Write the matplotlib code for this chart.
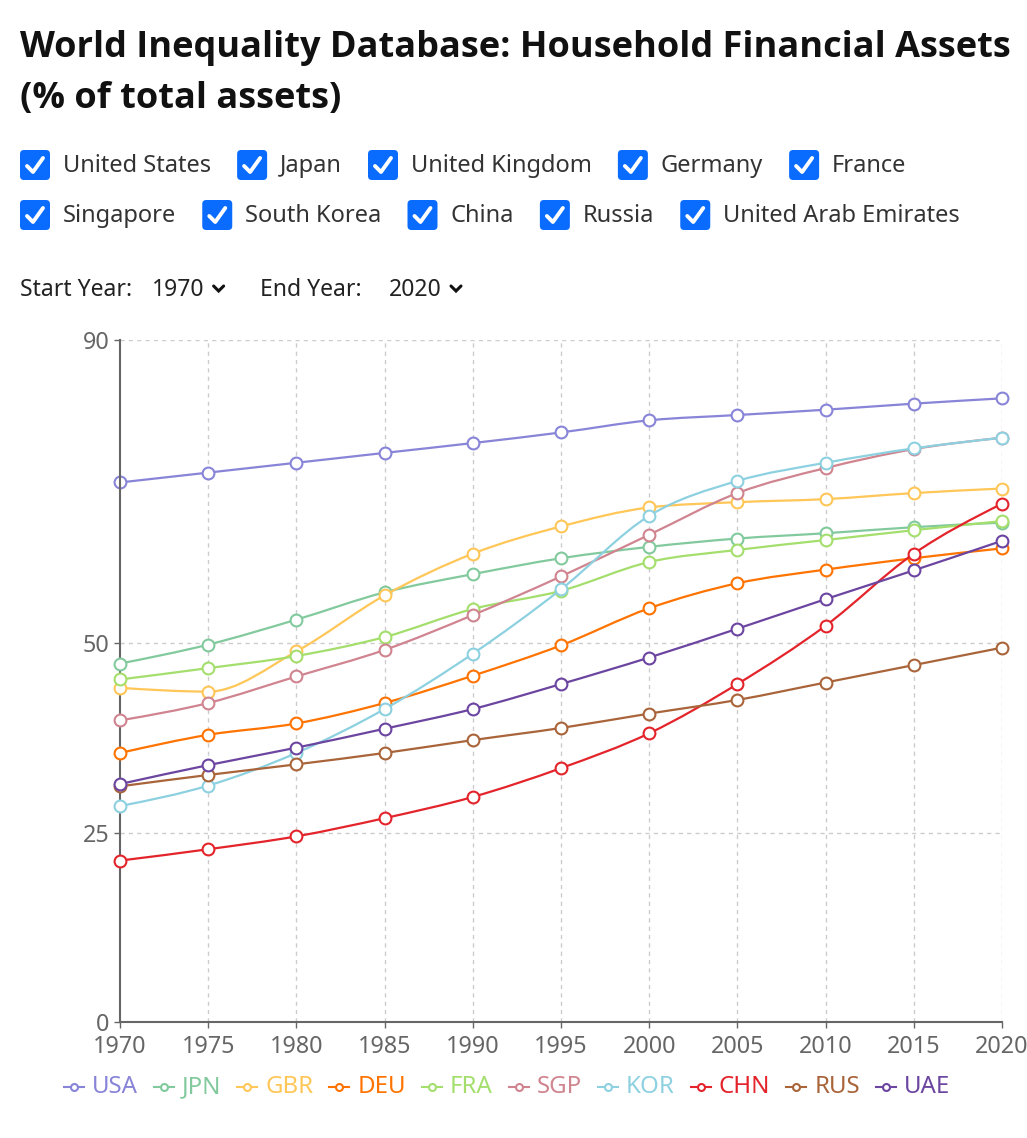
import numpy as np
import matplotlib
matplotlib.use('Agg')
import matplotlib.pyplot as plt
import matplotlib.transforms as mtransforms
from matplotlib.path import Path
from matplotlib.patches import PathPatch, FancyBboxPatch
from matplotlib.lines import Line2D

# data
years = [1970, 1975, 1980, 1985, 1990, 1995, 2000, 2005, 2010, 2015, 2020]
countries = ['United States', 'Japan', 'United Kingdom', 'Germany', 'France',
             'Singapore', 'South Korea', 'China', 'Russia', 'United Arab Emirates']
codes = ['USA', 'JPN', 'GBR', 'DEU', 'FRA', 'SGP', 'KOR', 'CHN', 'RUS', 'UAE']
colors = ['#8884d8', '#82ca9d', '#ffc658', '#ff7300', '#a4de6c',
          '#d0848f', '#8dd1e1', '#e3242b', '#a9643a', '#6b45a0']

usa = [71.2, 72.5, 73.8, 75.1, 76.4, 77.8, 79.4, 80.1, 80.8, 81.6, 82.3]
jpn = [47.3, 49.8, 53.1, 56.7, 59.1, 61.2, 62.7, 63.8, 64.5, 65.3, 65.9]
gbr = [44.1, 43.6, 48.9, 56.3, 61.8, 65.4, 67.9, 68.6, 69.0, 69.8, 70.4]
deu = [35.5, 37.9, 39.4, 42.1, 45.7, 49.7, 54.6, 57.9, 59.7, 61.2, 62.5]
fra = [45.2, 46.7, 48.3, 50.8, 54.5, 56.9, 60.7, 62.3, 63.6, 64.9, 66.1]
sgp = [39.8, 42.1, 45.6, 49.1, 53.7, 58.8, 64.3, 69.8, 73.1, 75.6, 77.1]
kor = [28.5, 31.2, 35.5, 41.3, 48.6, 57.1, 66.8, 71.4, 73.8, 75.7, 77.1]
chn = [21.3, 22.8, 24.5, 26.9, 29.7, 33.5, 38.1, 44.6, 52.3, 61.8, 68.4]
rus = [31.1, 32.6, 34.0, 35.5, 37.2, 38.8, 40.7, 42.5, 44.8, 47.1, 49.4]
uae = [31.4, 33.9, 36.2, 38.7, 41.3, 44.6, 48.1, 51.9, 55.8, 59.6, 63.5]
series = [usa, jpn, gbr, deu, fra, sgp, kor, chn, rus, uae]

y_ticks = [0, 25, 50, 90]

W, H = 1027, 1138
plt.rcParams['font.family'] = ['Noto Sans', 'DejaVu Sans']
fig = plt.figure(figsize=(W / 100, H / 100), dpi=100)
# pixel coordinates, origin top-left
px = mtransforms.Affine2D().scale(1 / W, -1 / H).translate(0, 1) + fig.transFigure
renderer = fig.canvas.get_renderer()


def width_of(t):
    return t.get_window_extent(renderer).width


def monotone_path(x, y):
    # same smoothing as d3 curveMonotoneX
    x = np.asarray(x, float)
    y = np.asarray(y, float)
    n = len(x)
    h = np.diff(x)
    s = np.diff(y) / h
    t = np.zeros(n)
    for i in range(1, n - 1):
        s0, s1 = s[i - 1], s[i]
        p = (s0 * h[i] + s1 * h[i - 1]) / (h[i - 1] + h[i])
        sg = (1 if s0 >= 0 else -1) + (1 if s1 >= 0 else -1)
        t[i] = sg * min(abs(s0), abs(s1), 0.5 * abs(p))
    t[0] = (3 * s[0] - t[1]) / 2
    t[-1] = (3 * s[-1] - t[-2]) / 2
    verts = [(x[0], y[0])]
    cds = [Path.MOVETO]
    for i in range(n - 1):
        dx = (x[i + 1] - x[i]) / 3
        verts += [(x[i] + dx, y[i] + dx * t[i]),
                  (x[i + 1] - dx, y[i + 1] - dx * t[i + 1]),
                  (x[i + 1], y[i + 1])]
        cds += [Path.CURVE4] * 3
    return Path(verts, cds)


# title
title_font = ['Open Sans', 'Lato', 'DejaVu Sans']
title1 = fig.text(20, 48, 'World Inequality Database: Household Financial Assets',
                  transform=px, fontsize=22, fontweight='bold', family=title_font,
                  color='#111111', va='center')
scale = 985 / width_of(title1)
title1.set_fontsize(22 * scale)
fig.text(20, 99, '(% of total assets)', transform=px, fontsize=22 * scale,
         fontweight='bold', family=title_font, color='#111111', va='center')

# checkbox rows
rows = [countries[:5], countries[5:]]
row_y = [165, 215]
for names, yc in zip(rows, row_y):
    x = 20
    for name in names:
        box = FancyBboxPatch((x, yc - 15), 30, 30, boxstyle='round,pad=0,rounding_size=4',
                             transform=px, facecolor='#0a6cff', edgecolor='none')
        fig.add_artist(box)
        fig.add_artist(Line2D([x + 7, x + 13, x + 23], [yc + 1, yc + 7, yc - 7], transform=px,
                              color='white', lw=2.8, solid_capstyle='round',
                              solid_joinstyle='round'))
        t = fig.text(x + 43, yc + 1, name, transform=px, fontsize=17, color='#333333',
                     va='center')
        x = x + 43 + width_of(t) + 26

# year selectors
def chevron(x, y):
    fig.add_artist(Line2D([x, x + 5, x + 10], [y - 3, y + 2, y - 3], transform=px,
                          color='#111111', lw=2.2, solid_capstyle='round',
                          solid_joinstyle='miter'))

ty = 290
fs = 16.5
t = fig.text(20, ty, 'Start Year:', transform=px, fontsize=fs, color='#222222', va='center')
x = 20 + width_of(t) + 20
t = fig.text(x, ty, '1970', transform=px, fontsize=fs, color='#222222', va='center')
x = x + width_of(t) + 9
chevron(x, ty - 1)
x = x + 10 + 36
t = fig.text(x, ty, 'End Year:', transform=px, fontsize=fs, color='#222222', va='center')
x = x + width_of(t) + 28
t = fig.text(x, ty, '2020', transform=px, fontsize=fs, color='#222222', va='center')
x = x + width_of(t) + 9
chevron(x, ty - 1)

# chart
ax = fig.add_axes([120 / W, 1 - 1022 / H, 882 / W, 682 / H])
ax.set_xlim(years[0], years[-1])
ax.set_ylim(0, 90)
for yv in y_ticks[1:]:
    ax.axhline(yv, color='#cccccc', lw=1, ls=(0, (3, 3)), zorder=0)
for xv in years[1:]:
    ax.axvline(xv, color='#cccccc', lw=1, ls=(0, (3, 3)), zorder=0)

for i, (vals, col) in enumerate(zip(series, colors)):
    ax.add_patch(PathPatch(monotone_path(years, vals), facecolor='none', edgecolor=col,
                           lw=1.6, zorder=2 + i, clip_on=False))
    ax.plot(years, vals, ls='none', marker='o', ms=8.5, mfc='white', mec=col, mew=1.5,
            zorder=2 + i, clip_on=False)

ax.set_xticks(years)
ax.set_yticks(y_ticks)
for side in ['top', 'right']:
    ax.spines[side].set_visible(False)
for side in ['left', 'bottom']:
    ax.spines[side].set_color('#666666')
    ax.spines[side].set_linewidth(1.5)
ax.tick_params(direction='out', length=4.5, width=1, color='#666666', labelcolor='#666666',
               labelsize=16.8)
ax.tick_params(axis='x', pad=5)
ax.tick_params(axis='y', pad=3)

# legend under the chart
ly = 1087
items = []
total = 0
for code, col in zip(codes, colors):
    t = fig.text(0, ly, code, transform=px, fontsize=17.3, color=col, va='center')
    w = width_of(t)
    items.append((t, w, col))
    total += 20 + 8 + w
total += 16 * (len(items) - 1)
x = 507 - total / 2
for t, w, col in items:
    fig.add_artist(Line2D([x, x + 20], [ly, ly], transform=px, color=col, lw=1.5))
    fig.add_artist(Line2D([x + 10], [ly], transform=px, marker='o', ms=5, mfc='white',
                          mec=col, mew=1.5))
    t.set_x(x + 28)
    t.set_transform(px)
    x = x + 28 + w + 16

fig.savefig('out.png', dpi=100)
